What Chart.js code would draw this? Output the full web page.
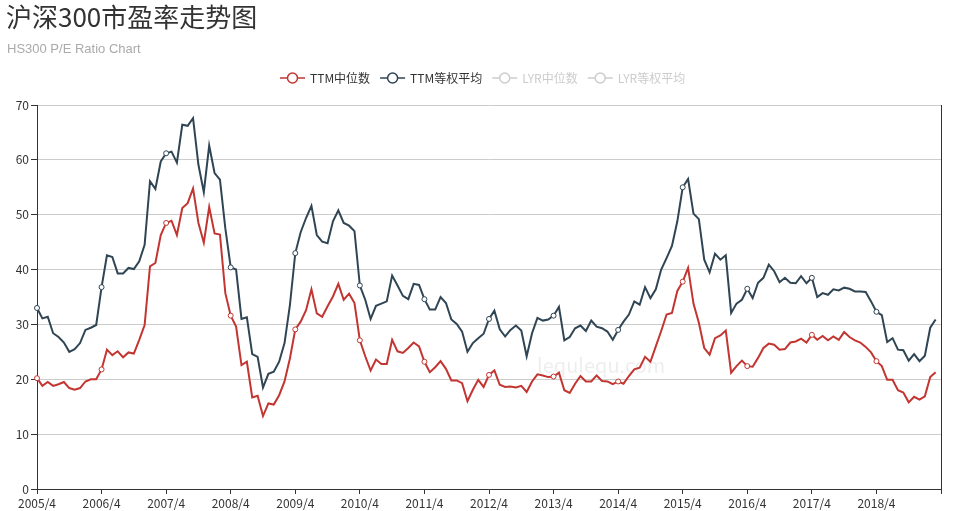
<!DOCTYPE html>
<html><head><meta charset="utf-8">
<script src="https://cdn.jsdelivr.net/npm/chart.js@4/dist/chart.umd.min.js"></script>
<style>html,body{margin:0;padding:0;background:#fff;}canvas{display:block;}</style>
</head><body>
<canvas id="c" width="958" height="511"></canvas>
<script>
const titleText = '沪深300市盈率走势图';
const subtitleText = 'HS300 P/E Ratio Chart';
const watermarkText = 'lequlequ.com';
const seriesNames = ['TTM中位数', 'TTM等权平均', 'LYR中位数', 'LYR等权平均'];
const seriesColors = ['#c23531', '#2f4554', '#61a0a8', '#d48265'];
const yMin = 0, yMax = 70, yStep = 10;
const labelEvery = 12;

// month categories 2005/4 ... 2019/4
const months = [];
for (let k = 0; k <= 168; k++) {
  const m = 3 + k;
  months.push((2005 + Math.floor(m / 12)) + '/' + (m % 12 + 1));
}

const ttmMedian = [
  20.2,18.8,19.5,18.8,19.1,19.5,18.4,18.1,18.4,19.6,20.0,20.0,
  21.8,25.4,24.4,25.1,24.0,24.9,24.7,27.2,29.9,40.6,41.2,46.3,
  48.5,48.9,46.3,51.2,52.1,54.8,48.5,44.9,51.4,46.6,46.4,35.7,
  31.6,29.6,22.6,23.2,16.7,17.0,13.3,15.6,15.4,17.1,19.6,23.8,
  29.1,30.5,32.6,36.4,32.0,31.4,33.3,35.1,37.4,34.5,35.6,33.9,
  27.1,24.2,21.6,23.6,22.8,22.8,27.2,25.1,24.8,25.7,26.7,26.0,
  23.2,21.3,22.2,23.3,21.9,19.8,19.8,19.3,16.0,18.1,19.9,18.6,
  20.8,21.6,19.0,18.6,18.7,18.5,18.8,17.7,19.6,20.9,20.7,20.4,
  20.5,21.2,18.0,17.5,19.2,20.6,19.6,19.6,20.7,19.7,19.6,19.1,
  19.6,19.2,20.6,21.8,22.1,24.1,23.2,26.0,28.8,31.8,32.1,36.1,
  37.8,40.3,33.8,30.3,25.7,24.5,27.5,28.0,28.9,21.2,22.4,23.4,
  22.4,22.3,23.9,25.7,26.5,26.3,25.4,25.5,26.7,26.9,27.4,26.7,
  28.1,27.2,27.9,27.1,27.8,27.2,28.6,27.7,27.1,26.7,25.9,24.9,
  23.3,22.4,19.9,19.9,18.0,17.6,15.8,16.8,16.3,16.9,20.4,21.3
];
const ttmEqual = [
  33.0,31.1,31.4,28.4,27.7,26.7,25.0,25.5,26.6,29.0,29.4,29.9,
  36.8,42.6,42.3,39.3,39.3,40.3,40.1,41.5,44.5,56.1,54.7,59.7,
  61.2,61.5,59.5,66.4,66.2,67.6,59.1,54.1,62.6,57.6,56.4,47.5,
  40.4,40.0,31.0,31.3,24.6,24.1,18.5,21.0,21.4,23.2,26.6,33.5,
  43.0,46.8,49.4,51.6,46.3,45.1,44.8,48.8,50.8,48.5,48.0,47.0,
  37.1,34.5,31.0,33.4,33.8,34.2,38.9,37.1,35.2,34.6,37.4,37.2,
  34.6,32.7,32.7,35.0,33.9,30.9,30.1,28.7,25.0,26.6,27.5,28.3,
  31.0,32.5,29.1,27.8,29.0,29.8,28.9,24.2,28.4,31.2,30.7,30.9,
  31.6,33.2,27.1,27.7,29.3,29.8,28.8,30.7,29.6,29.3,28.7,27.2,
  29.0,30.5,31.8,34.2,33.6,36.8,34.8,36.4,40.0,42.1,44.3,48.8,
  55.0,56.5,50.2,49.2,41.8,39.5,42.9,41.8,42.6,32.1,33.8,34.5,
  36.5,34.8,37.6,38.5,40.9,39.7,37.7,38.5,37.6,37.5,38.8,37.5,
  38.5,35.0,35.7,35.4,36.4,36.2,36.7,36.5,36.0,36.0,35.9,34.2,
  32.3,31.7,26.8,27.5,25.4,25.3,23.4,24.6,23.3,24.3,29.4,30.9
];
const lyrMedian = [];
const lyrEqual = [];

const FONT = '"Noto Sans CJK SC", "Noto Sans", sans-serif';

const headerPlugin = {
  id: 'header',
  afterDraw(chart) {
    const ctx = chart.ctx;
    ctx.save();
    ctx.textAlign = 'left';
    ctx.textBaseline = 'alphabetic';
    ctx.fillStyle = '#333';
    ctx.font = '26px ' + FONT;
    ctx.fillText(titleText, 6, 26.5);
    ctx.fillStyle = '#aaa';
    ctx.font = '13px "Liberation Sans", Arial, sans-serif';
    ctx.fillText(subtitleText, 7, 52.5);
    // legend
    let x = 280;
    const y = 78;
    ctx.font = '12px ' + FONT;
    ctx.textBaseline = 'middle';
    chart.data.datasets.forEach(ds => {
      const col = ds.hidden ? '#ccc' : ds.borderColor;
      ctx.strokeStyle = col;
      ctx.lineWidth = 1.5;
      ctx.beginPath(); ctx.moveTo(x, y); ctx.lineTo(x + 25, y); ctx.stroke();
      ctx.beginPath(); ctx.arc(x + 12.5, y, 5, 0, Math.PI * 2);
      ctx.fillStyle = '#fff'; ctx.fill(); ctx.stroke();
      ctx.fillStyle = ds.hidden ? '#ccc' : '#333';
      ctx.fillText(ds.label, x + 30, y);
      x += 30 + ctx.measureText(ds.label).width + 10;
    });
    ctx.restore();
  }
};

const watermarkPlugin = {
  id: 'watermark',
  beforeDatasetsDraw(chart) {
    const ctx = chart.ctx;
    ctx.save();
    ctx.font = '20px ' + FONT;
    ctx.fillStyle = 'rgba(0,0,0,0.07)';
    ctx.textBaseline = 'alphabetic';
    ctx.fillText(watermarkText, 537, 373);
    ctx.restore();
  }
};

function mkDataset(i, data) {
  return {
    label: seriesNames[i],
    data: data,
    borderColor: seriesColors[i],
    backgroundColor: seriesColors[i],
    borderWidth: 2,
    tension: 0,
    fill: false,
    pointRadius: c => (c.dataIndex % labelEvery === 0 ? 2.5 : 0),
    pointHoverRadius: 0,
    pointBackgroundColor: '#fff',
    pointBorderColor: seriesColors[i],
    pointBorderWidth: 1
  };
}

const datasets = [
  mkDataset(0, ttmMedian),
  mkDataset(1, ttmEqual),
  Object.assign(mkDataset(2, lyrMedian), { hidden: true }),
  Object.assign(mkDataset(3, lyrEqual), { hidden: true })
];

new Chart(document.getElementById('c'), {
  type: 'line',
  data: { labels: months, datasets: datasets },
  plugins: [headerPlugin, watermarkPlugin],
  options: {
    responsive: false,
    animation: false,
    devicePixelRatio: 1,
    layout: { padding: { top: 105, right: 17, left: 0, bottom: 0 } },
    plugins: { legend: { display: false }, tooltip: { enabled: false }, title: { display: false } },
    scales: {
      x: {
        type: 'category',
        offset: false,
        grid: {
          drawOnChartArea: false,
          drawTicks: true,
          tickLength: 5,
          tickColor: c => (c.index % labelEvery === 0 ? '#333' : 'rgba(0,0,0,0)')
        },
        border: { color: '#333', width: 1 },
        ticks: {
          autoSkip: false,
          maxRotation: 0,
          minRotation: 0,
          padding: 2,
          color: '#333',
          font: { size: 12, family: FONT },
          callback: function (v, i) { return (i % labelEvery === 0 && i < ttmMedian.length) ? months[i] : ''; }
        },
        afterFit: s => { s.height = 22; }
      },
      y: {
        min: yMin, max: yMax,
        ticks: { stepSize: yStep, color: '#333', padding: 2, font: { size: 12, family: FONT } },
        grid: { color: '#ccc', tickColor: '#333', tickLength: 6, lineWidth: 1 },
        border: { color: '#333', width: 1 },
        afterFit: s => { s.width = 37; }
      },
      y1: {
        position: 'right',
        min: yMin, max: yMax,
        ticks: { display: false },
        grid: { drawOnChartArea: false, drawTicks: false },
        border: { color: '#333', width: 1 },
        afterFit: s => { s.width = 0; }
      }
    }
  }
});
</script>
</body></html>
